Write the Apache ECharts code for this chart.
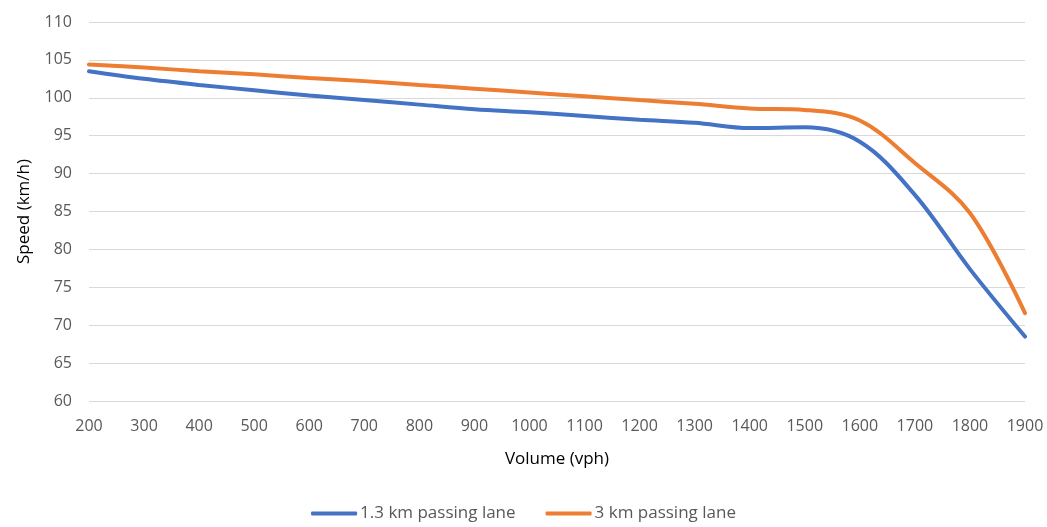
<!DOCTYPE html>
<html>
<head>
<meta charset="utf-8">
<script src="https://cdn.jsdelivr.net/npm/echarts@6/dist/echarts.min.js"></script>
<style>
  html, body { margin: 0; padding: 0; background: #fff; }
  #chart { width: 1047px; height: 527px; }
</style>
</head>
<body>
<div id="chart"></div>
<script>
// Traffic volume (vph) against average speed (km/h)
const volumes = [200, 300, 400, 500, 600, 700, 800, 900, 1000, 1100, 1200, 1300, 1400, 1500, 1600, 1700, 1800, 1900];
const lane13 = [103.5, 102.5, 101.7, 101.0, 100.3, 99.7, 99.1, 98.5, 98.1, 97.6, 97.1, 96.7, 96.0, 96.1, 94.2, 87.2, 77.4, 68.5];
const lane3 = [104.4, 104.0, 103.5, 103.1, 102.6, 102.2, 101.7, 101.2, 100.7, 100.2, 99.7, 99.2, 98.6, 98.4, 97.0, 91.4, 84.8, 71.6];
const seriesNames = ['1.3 km passing lane', '3 km passing lane'];

const font = '"Open Sans", "Liberation Sans", sans-serif';
const textColor = '#595959';

const chart = echarts.init(document.getElementById('chart'));
chart.setOption({
  animation: false,
  backgroundColor: '#fff',
  grid: { left: 89, right: 22, top: 22, bottom: 126 },
  legend: {
    bottom: 0,
    left: 'center',
    itemWidth: 46,
    itemHeight: 4,
    itemGap: 30,
    icon: 'roundRect',
    textStyle: { color: textColor, fontSize: 17, fontFamily: font, padding: [0, 0, 0, -2] },
    data: seriesNames
  },
  xAxis: {
    type: 'value',
    min: 200,
    max: 1900,
    interval: 100,
    name: 'Volume (vph)',
    nameLocation: 'middle',
    nameGap: 50,
    nameTextStyle: { color: '#000', fontSize: 17, fontFamily: font },
    axisLine: { show: false },
    axisTick: { show: false },
    splitLine: { show: false },
    axisLabel: { color: textColor, fontSize: 16, fontFamily: font, margin: 17, formatter: v => String(v) }
  },
  yAxis: {
    type: 'value',
    min: 60,
    max: 110,
    interval: 5,
    name: 'Speed (km/h)',
    nameLocation: 'middle',
    nameGap: 56,
    nameRotate: 90,
    nameTextStyle: { color: '#000', fontSize: 17, fontFamily: font },
    axisLine: { show: false },
    axisTick: { show: false },
    splitLine: { lineStyle: { color: '#d9d9d9', width: 1 } },
    axisLabel: { color: textColor, fontSize: 16, fontFamily: font, margin: 17 }
  },
  series: [
    {
      name: seriesNames[0],
      type: 'line',
      smooth: 0.35,
      showSymbol: false,
      data: volumes.map((v, i) => [v, lane13[i]]),
      lineStyle: { color: '#4472C4', width: 4, cap: 'round' },
      itemStyle: { color: '#4472C4' }
    },
    {
      name: seriesNames[1],
      type: 'line',
      smooth: 0.35,
      showSymbol: false,
      data: volumes.map((v, i) => [v, lane3[i]]),
      lineStyle: { color: '#ED7D31', width: 4, cap: 'round' },
      itemStyle: { color: '#ED7D31' }
    }
  ]
});
</script>
</body>
</html>
